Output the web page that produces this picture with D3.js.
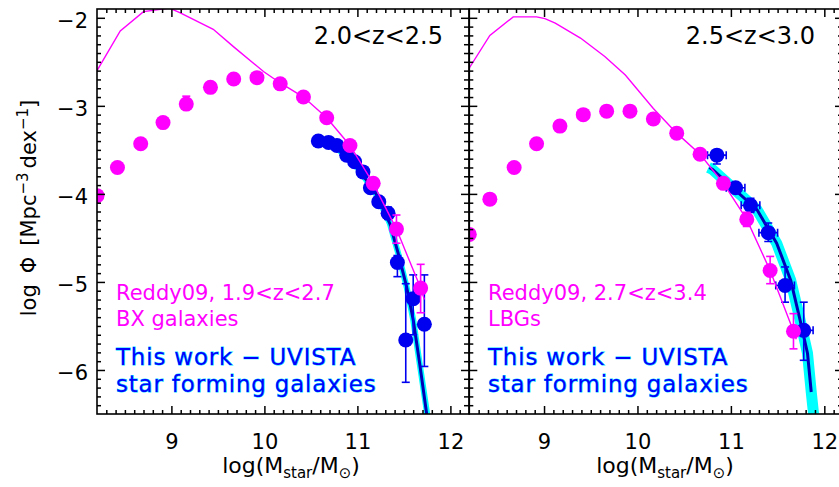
<!DOCTYPE html>
<html><head><meta charset="utf-8">
<script src="https://cdn.jsdelivr.net/npm/d3@7"></script>
<style>body{margin:0;background:#fff}svg{display:block}text{font-family:"DejaVu Sans",sans-serif}</style>
</head><body><svg id="c" width="839" height="487"></svg>
<script>
// ---- data ----
const xTicks=[9,10,11,12];
const yTicks=[-2,-3,-4,-5,-6];
const panelLabels=["2.0<z<2.5","2.5<z<3.0"];
const reddyLabels=[["Reddy09, 1.9<z<2.7","BX galaxies"],["Reddy09, 2.7<z<3.4","LBGs"]];
const workLabels=["This work \u2212 UVISTA","star forming galaxies"];

// left panel (2.0<z<2.5)
const reddyLeftX=[8.2,8.42,8.67,8.91,9.16,9.42,9.67,9.92,10.17,10.42,10.67,10.92,11.17,11.42,11.68];
const reddyLeftY=[-4.02,-3.70,-3.43,-3.19,-2.98,-2.79,-2.695,-2.68,-2.75,-2.90,-3.135,-3.45,-3.88,-4.40,-5.07];
const reddyLeftUp=[0,0,0,0,0.09,0,0,0,0,0,0,0,0.06,0.16,0.27];
const reddyLeftDn=[0,0,0,0,0,0,0,0,0,0,0,0,0.06,0.16,0.28];
const reddyLineLeftX=[8.2,8.45,8.7,8.98,9.09,9.45,9.67,9.99,10.17,10.42,10.67,10.92,11.17,11.42,11.68,11.72];
const reddyLineLeftY=[-2.6,-2.15,-1.93,-1.89,-1.94,-2.13,-2.33,-2.61,-2.74,-2.90,-3.135,-3.45,-3.88,-4.40,-5.07,-5.2];
const blueLeftX=[10.58,10.69,10.78,10.885,10.97,11.06,11.14,11.23,11.33,11.43,11.52,11.60,11.72];
const blueLeftY=[-3.40,-3.415,-3.45,-3.56,-3.635,-3.75,-3.93,-4.09,-4.22,-4.78,-5.66,-5.19,-5.48];
const blueLeftUp=[0.02,0.02,0.02,0.03,0.03,0.04,0.05,0.06,0.07,0.08,0.64,0.27,0.56];
const blueLeftDn=[0.02,0.02,0.02,0.03,0.03,0.04,0.05,0.06,0.07,0.16,0.48,0.41,0.48];
const blueLeftXErr=[0.05,0.05,0.05,0.05,0.05,0.05,0.05,0.05,0.05,0.05,0.05,0.05,0.05];
const fitLeftX=[10.6,10.8,11.0,11.2,11.35,11.44,11.53,11.60,11.67,11.745];
const fitLeftY=[-3.40,-3.50,-3.70,-4.00,-4.34,-4.68,-5.06,-5.43,-5.93,-6.5];
const bandLeftX=[10.6,10.8,11.0,11.2,11.35,11.44,11.53,11.60,11.67,11.75];
const bandLeftY=[-3.40,-3.50,-3.70,-4.00,-4.34,-4.68,-5.06,-5.43,-5.93,-6.5];

// right panel (2.5<z<3.0)
const reddyRightX=[8.2,8.42,8.68,8.92,9.17,9.42,9.67,9.92,10.17,10.42,10.67,10.92,11.17,11.42,11.67];
const reddyRightY=[-4.46,-4.06,-3.70,-3.43,-3.23,-3.10,-3.06,-3.06,-3.15,-3.31,-3.55,-3.88,-4.29,-4.87,-5.56];
const reddyRightUp=[0,0,0,0,0,0,0,0,0,0,0,0,0.08,0.16,0.2];
const reddyRightDn=[0,0,0,0,0,0,0,0,0,0,0,0,0.08,0.15,0.2];
const reddyLineRightX=[8.2,8.42,8.67,8.92,9.01,9.12,9.39,9.65,9.87,10.17,10.42,10.67,10.92,11.17,11.42,11.67,11.70];
const reddyLineRightY=[-2.57,-2.2,-1.99,-1.99,-2.01,-2.06,-2.23,-2.44,-2.65,-3.03,-3.31,-3.55,-3.88,-4.29,-4.87,-5.56,-5.65];
const blueRightX=[10.85,11.05,11.21,11.40,11.58,11.78];
const blueRightY=[-3.56,-3.93,-4.13,-4.44,-5.04,-5.55];
const blueRightUp=[0.03,0.05,0.08,0.11,0.21,0.32];
const blueRightDn=[0.1,0.05,0.08,0.1,0.19,0.34];
const blueRightXErr=[0.1,0.1,0.1,0.1,0.1,0.1];
const fitRightX=[10.77,10.80,11.03,11.28,11.49,11.64,11.74,11.82,11.86];
const fitRightY=[-3.70,-3.72,-3.94,-4.18,-4.56,-4.98,-5.43,-5.81,-6.25];
const bandRightX=[10.76,10.80,11.03,11.28,11.49,11.64,11.74,11.82,11.86,11.885];
const bandRightY=[-3.70,-3.72,-3.94,-4.18,-4.56,-4.98,-5.43,-5.81,-6.25,-6.5];

// ---- drawing ----
const MAG="#ff00ff", BLUE="#0000f0", NAVY="#0000b8", CYAN="#00ffff";
const svg=d3.select("#c");
const yTop=9, yBot=414;
const y=d3.scaleLinear().domain([-6.5,-1.9]).range([yBot,yTop]);
const zip=(a,b)=>a.map((v,i)=>[v,b[i]]);

const panels=[
 {x0:97,x1:469,label:panelLabels[0],rl:reddyLabels[0],lx:116,
  reddy:{x:reddyLeftX,y:reddyLeftY,up:reddyLeftUp,dn:reddyLeftDn},
  rline:zip(reddyLineLeftX,reddyLineLeftY),
  blue:{x:blueLeftX,y:blueLeftY,up:blueLeftUp,dn:blueLeftDn,xe:blueLeftXErr},
  fit:zip(fitLeftX,fitLeftY),band:zip(bandLeftX,bandLeftY),bandW:6,xlab:291},
 {x0:469.3,x1:843,label:panelLabels[1],rl:reddyLabels[1],lx:488,
  reddy:{x:reddyRightX,y:reddyRightY,up:reddyRightUp,dn:reddyRightDn},
  rline:zip(reddyLineRightX,reddyLineRightY),
  blue:{x:blueRightX,y:blueRightY,up:blueRightUp,dn:blueRightDn,xe:blueRightXErr},
  fit:zip(fitRightX,fitRightY),band:zip(bandRightX,bandRightY),bandW:11,xlab:665}
];

const minorX=d3.range(83,122).map(v=>v/10).filter(v=>!xTicks.includes(v));
const minorY=d3.range(-64,-19).map(v=>v/10).filter(v=>!yTicks.includes(v));

panels.forEach((p,pi)=>{
  const x=d3.scaleLinear().domain([8.2,12.2]).range([p.x0,p.x1]);
  const cid="clip"+pi;
  svg.append("clipPath").attr("id",cid).append("rect")
    .attr("x",p.x0).attr("y",yTop).attr("width",p.x1-p.x0).attr("height",yBot-yTop);
  const g=svg.append("g").attr("clip-path",`url(#${cid})`);
  const line=d3.line().x(d=>x(d[0])).y(d=>y(d[1]));

  g.append("path").attr("d",line(p.band)).attr("fill","none").attr("stroke",CYAN)
    .attr("stroke-width",p.bandW).attr("stroke-linejoin","round");
  g.append("path").attr("d",line(p.fit)).attr("fill","none").attr("stroke",NAVY)
    .attr("stroke-width",3).attr("stroke-linejoin","round");

  const b=p.blue;
  b.x.forEach((xv,i)=>{
    const cx=x(xv), cy=y(b.y[i]);
    const ty=y(b.y[i]+b.up[i]), by=y(b.y[i]-b.dn[i]);
    g.append("line").attr("x1",cx).attr("x2",cx).attr("y1",ty).attr("y2",by).attr("stroke",BLUE).attr("stroke-width",1.6);
    [ty,by].forEach(yy=>g.append("line").attr("x1",cx-4).attr("x2",cx+4).attr("y1",yy).attr("y2",yy).attr("stroke",BLUE).attr("stroke-width",1.6));
    const lx=x(xv-b.xe[i]), rx=x(xv+b.xe[i]);
    g.append("line").attr("x1",lx).attr("x2",rx).attr("y1",cy).attr("y2",cy).attr("stroke",BLUE).attr("stroke-width",1.6);
    [lx,rx].forEach(xx=>g.append("line").attr("x1",xx).attr("x2",xx).attr("y1",cy-4).attr("y2",cy+4).attr("stroke",BLUE).attr("stroke-width",1.6));
  });
  g.selectAll(null).data(b.x).enter().append("circle")
    .attr("cx",d=>x(d)).attr("cy",(d,i)=>y(b.y[i])).attr("r",7.5).attr("fill",BLUE);

  g.append("path").attr("d",line(p.rline)).attr("fill","none").attr("stroke",MAG).attr("stroke-width",1.4);
  const r=p.reddy;
  r.x.forEach((xv,i)=>{
    if(!(r.up[i]||r.dn[i])) return;
    const cx=x(xv), ty=y(r.y[i]+r.up[i]), by=y(r.y[i]-r.dn[i]);
    g.append("line").attr("x1",cx).attr("x2",cx).attr("y1",ty).attr("y2",by).attr("stroke",MAG).attr("stroke-width",1.6);
    [ty,by].forEach(yy=>g.append("line").attr("x1",cx-4).attr("x2",cx+4).attr("y1",yy).attr("y2",yy).attr("stroke",MAG).attr("stroke-width",1.6));
  });
  g.selectAll(null).data(r.x).enter().append("circle")
    .attr("cx",d=>x(d)).attr("cy",(d,i)=>y(r.y[i])).attr("r",7.5).attr("fill",MAG);

  const ax=svg.append("g");
  const tickStyle=sel=>{sel.select(".domain").remove();sel.selectAll("line").attr("stroke","#000").attr("stroke-width",1.5);};
  ax.append("g").attr("transform",`translate(0,${yBot})`)
    .call(d3.axisBottom(x).tickValues(xTicks).tickSize(-8).tickPadding(20).tickFormat(d3.format("d"))).call(tickStyle)
    .selectAll("text").attr("font-size",21).attr("font-family","DejaVu Sans").attr("fill","#000");
  ax.append("g").attr("transform",`translate(0,${yBot})`)
    .call(d3.axisBottom(x).tickValues(minorX).tickSize(-4).tickFormat("")).call(tickStyle);
  ax.append("g").attr("transform",`translate(0,${yTop})`)
    .call(d3.axisTop(x).tickValues(xTicks).tickSize(-8).tickFormat("")).call(tickStyle);
  ax.append("g").attr("transform",`translate(0,${yTop})`)
    .call(d3.axisTop(x).tickValues(minorX).tickSize(-4).tickFormat("")).call(tickStyle);
  const yl=ax.append("g").attr("transform",`translate(${p.x0},0)`)
    .call(d3.axisLeft(y).tickValues(yTicks).tickSize(-8).tickPadding(9).tickFormat(pi===0?(d=>"\u2212"+Math.abs(d)):"")).call(tickStyle);
  yl.selectAll("text").attr("font-size",21).attr("font-family","DejaVu Sans").attr("fill","#000").attr("dy","0.45em");
  ax.append("g").attr("transform",`translate(${p.x0},0)`)
    .call(d3.axisLeft(y).tickValues(minorY).tickSize(-4).tickFormat("")).call(tickStyle);
  ax.append("g").attr("transform",`translate(${p.x1},0)`)
    .call(d3.axisRight(y).tickValues(yTicks).tickSize(-8).tickFormat("")).call(tickStyle);
  ax.append("g").attr("transform",`translate(${p.x1},0)`)
    .call(d3.axisRight(y).tickValues(minorY).tickSize(-5).tickFormat("")).call(tickStyle);
  svg.append("rect").attr("x",p.x0).attr("y",yTop).attr("width",p.x1-p.x0).attr("height",yBot-yTop)
    .attr("fill","none").attr("stroke","#000").attr("stroke-width",1.6);

  svg.append("text").attr("x",pi===0?443:815).attr("y",44).attr("text-anchor","end")
    .attr("font-size",24).attr("fill","#000").text(p.label);
  svg.append("text").attr("x",p.lx).attr("y",300).attr("font-size",21).attr("fill",MAG).text(p.rl[0]);
  svg.append("text").attr("x",p.lx).attr("y",326).attr("font-size",21).attr("fill",MAG).text(p.rl[1]);
  workLabels.forEach((t,k)=>{
    svg.append("text").attr("x",p.lx).attr("y",365+k*26.5).attr("font-size",23)
      .attr("fill","#0000ff").attr("stroke","#00e0ff").attr("stroke-width",0.9)
      .attr("paint-order","stroke").attr("letter-spacing",0.8).text(t);
  });
  const xl=svg.append("text").attr("x",p.xlab).attr("y",473).attr("text-anchor","middle")
    .attr("font-size",22).attr("fill","#000");
  xl.append("tspan").text("log(M");
  xl.append("tspan").attr("font-size",15).attr("dy",5).text("star");
  xl.append("tspan").attr("dy",-5).text("/M");
  xl.append("tspan").attr("font-size",15).attr("dy",5).text("\u2299");
  xl.append("tspan").attr("dy",-5).text(")");
});

const ylab=svg.append("text").attr("transform","translate(36,208) rotate(-90)")
  .attr("text-anchor","middle").attr("font-size",21).attr("fill","#000");
ylab.append("tspan").text("log");
ylab.append("tspan").attr("dx",11).text("\u03a6");
ylab.append("tspan").attr("dx",11).text("[Mpc");
ylab.append("tspan").attr("font-size",15).attr("dy",-8).text("\u22123");
ylab.append("tspan").attr("dy",8).attr("dx",4).text("dex");
ylab.append("tspan").attr("font-size",15).attr("dy",-8).text("\u22121");
ylab.append("tspan").attr("dy",8).text("]");
</script></body></html>
